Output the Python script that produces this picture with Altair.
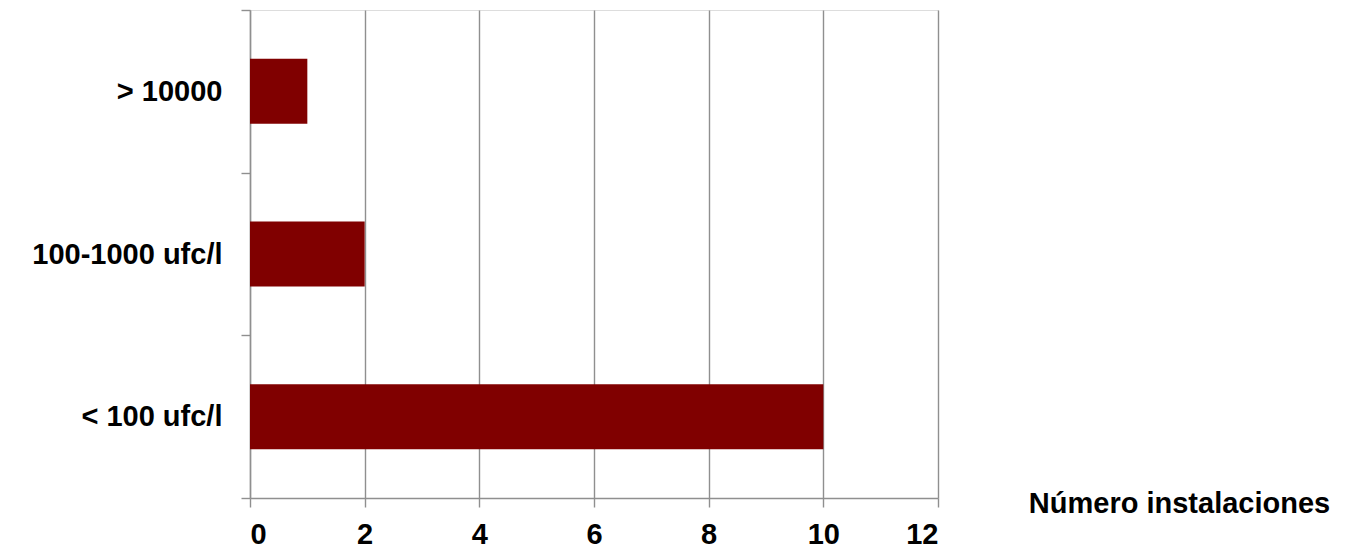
import altair as alt
import pandas as pd

categories = ["> 10000", "100-1000 ufc/l", "< 100 ufc/l"]
values = [1, 2, 10]
x_ticks = [0, 2, 4, 6, 8, 10, 12]

df = pd.DataFrame({"cat": categories, "n": values})

FONT = "Liberation Sans"
GRID = "#8f8f8f"
FS = 29

chart = alt.Chart(df).mark_bar(color="#800000", size=65).encode(
    x=alt.X(
        "n:Q",
        scale=alt.Scale(domain=[0, 12], nice=False, zero=True),
        axis=alt.Axis(
            values=x_ticks,
            title="Número instalaciones",
            titleX=929,
            titleY=14,
            titleAlign="center",
            titleBaseline="alphabetic",
            titleFont=FONT,
            titleFontSize=FS,
            titleFontWeight="bold",
            titleColor="black",
            labelFont=FONT,
            labelFontSize=FS,
            labelFontWeight="bold",
            labelColor="black",
            labelPadding=13,
            tickSize=9,
            tickColor=GRID,
            domainColor=GRID,
            grid=True,
            gridColor=GRID,
            gridWidth=1.4,
            domainWidth=1.4,
            tickWidth=1.4,
        ),
    ),
    y=alt.Y(
        "cat:N",
        sort=categories,
        scale=alt.Scale(paddingInner=0, paddingOuter=0),
        axis=alt.Axis(
            title=None,
            tickBand="extent",
            labelFont=FONT,
            labelFontSize=FS,
            labelFontWeight="bold",
            labelColor="black",
            labelPadding=19,
            labelLimit=0,
            tickSize=9,
            tickColor=GRID,
            domainColor=GRID,
            grid=False,
            domainWidth=1.4,
            tickWidth=1.4,
        ),
    ),
).properties(
    width=688,
    height=488,
    autosize=alt.AutoSizeParams(type="none"),
    padding={"left": 242, "top": 2, "right": 405, "bottom": 50},
).configure_view(stroke=None).configure(background="white")

chart.save("out.html", embed_options={"renderer": "svg", "actions": False})
